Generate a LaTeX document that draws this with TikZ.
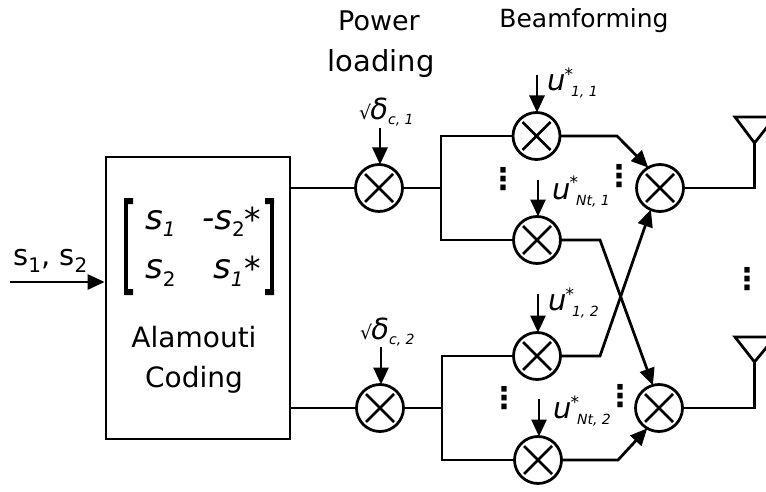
\documentclass[tikz,border=0pt]{standalone}
\usepackage{fontspec}
\setmainfont{DejaVu Sans}
\usetikzlibrary{arrows.meta}
\newcommand{\fs}[1]{\fontsize{#1}{#1}\selectfont}
\newcommand{\lowered}[3]{\raisebox{#1pt}{\fs{#2}#3}}
\newcommand{\ustar}[1]{\fs{29}\itshape u\kern-1pt\lowered{10}{17}{*}\kern-2pt\lowered{-6}{14}{#1}}
\tikzset{
  x=1pt,y=-1pt,
  wire/.style={line width=2.75pt,line join=miter},
  arrowwire/.style={wire,-{Triangle[length=17pt,width=15pt]}},
  mixer/.style={circle,draw,line width=2.75pt,minimum size=47pt,inner sep=0pt,outer sep=0pt,
    path picture={\draw[line width=2.75pt]
      ([xshift=-14pt,yshift=-14pt]path picture bounding box.center)--([xshift=14pt,yshift=14pt]path picture bounding box.center)
      ([xshift=-14pt,yshift=14pt]path picture bounding box.center)--([xshift=14pt,yshift=-14pt]path picture bounding box.center);}},
  blockbox/.style={draw,line width=2.75pt,minimum width=184pt,minimum height=282pt,inner sep=0pt},
  caption/.style={inner sep=0pt,font=\fs{27}},
  bigtext/.style={inner sep=0pt,font=\fs{28}},
  gain/.style={inner sep=0pt,anchor=base west},
  entry/.style={inner sep=0pt,anchor=base west},
  vdotsnode/.style={inner sep=0pt,font=\fs{30}\bfseries},
  antenna/.style={draw,line width=2.75pt,line join=miter},
  bracket/.style={line width=4pt,line cap=butt}
}
\begin{document}
\begin{tikzpicture}
\useasboundingbox (0,0) rectangle (766,492);
% blocks
\node[blockbox] (alamouti) at (198,298) {};
\node[mixer] (p1) at (379,188) {};
\node[mixer] (p2) at (380,408) {};
\node[mixer] (u11) at (536.5,136) {};
\node[mixer] (un1) at (537,240) {};
\node[mixer] (u12) at (537,356) {};
\node[mixer] (un2) at (538,460) {};
\node[mixer] (s1) at (660,188) {};
\node[mixer] (s2) at (659,408) {};
% captions
\node[caption] (cpower) at (379,21) {Power};
\node[caption,font=\fs{29}] (cload) at (381,64) {loading};
\node[caption,font=\fs{25}] (cbeam) at (584,21) {Beamforming};
\node[bigtext] (calam) at (194,337) {Alamouti};
\node[bigtext] (ccod) at (194,380) {Coding};
% input
\coordinate (in) at (10,282);
\node[inner sep=0pt,anchor=base west] (inlab) at (13,265) {\fs{29}s\lowered{-7}{20}{1}, s\lowered{-7}{20}{2}};
\draw[arrowwire] (in) -- (in -| alamouti.west);
% matrix
\draw[bracket] (126,198) -- (126,295);
\draw[bracket] (272,198) -- (272,295);
\fill (124,198) rectangle (133,204) (124,289) rectangle (133,295);
\fill (265,198) rectangle (274,204) (265,289) rectangle (274,295);
\node[entry] (m11) at (145,229) {\fs{34}\itshape s\lowered{-8}{20}{1}};
\node[entry] (m12) at (202,229) {\fs{34}\itshape -s\lowered{-8}{20}{\upshape 2}};
\node[entry] (m21) at (145,278) {\fs{34}\itshape s\lowered{-8}{20}{\upshape 2}};
\node[entry] (m22) at (213,278) {\fs{34}\itshape s\lowered{-8}{20}{1}};
\node[inner sep=0pt] (st1) at (253,219) {\fs{33}*};
\node[inner sep=0pt] (st2) at (253,268) {\fs{33}*};
% gain labels
\node[gain] (g1) at (359,120) {\fs{19}√\kern-1pt\fs{29}\itshape δ\lowered{-5}{14}{c, 1}};
\node[gain] (g2) at (360,339) {\fs{19}√\kern-1pt\fs{29}\itshape δ\lowered{-5}{14}{c, 2}};
\coordinate (g1a) at (380,128);
\coordinate (g2a) at (381,347);
\draw[arrowwire] (g1a) -- (g1a |- p1.north);
\draw[arrowwire] (g2a) -- (g2a |- p2.north);
% weight labels
\node[gain] (w11) at (547,91) {\ustar{1, 1}};
\node[gain] (wn1) at (552,199) {\ustar{Nt, 1}};
\node[gain] (w12) at (548,310) {\ustar{1, 2}};
\node[gain] (wn2) at (553,418) {\ustar{Nt, 2}};
\coordinate (w11a) at (537,75);
\coordinate (wn1a) at (538,180);
\coordinate (w12a) at (538,294);
\coordinate (wn2a) at (539,399);
\draw[arrowwire] (w11a) -- (w11a |- u11.north);
\draw[arrowwire] (wn1a) -- (wn1a |- un1.north);
\draw[arrowwire] (w12a) -- (w12a |- u12.north);
\draw[arrowwire] (wn2a) -- (wn2a |- un2.north);
% feeds
\draw[wire] (alamouti.east |- p1) -- (p1.west);
\draw[wire] (alamouti.east |- p2) -- (p2.west);
\coordinate (j1) at (441,188);
\coordinate (j2) at (442,408);
\draw[wire] (p1.east) -- (j1);
\draw[wire] (p2.east) -- (j2);
\draw[wire] (u11.west) -| (j1) |- (un1.west);
\draw[wire] (u12.west) -| (j2) |- (un2.west);
% outputs to summers
\coordinate (b1) at (617,136);
\coordinate (b2) at (600,240);
\coordinate (b3) at (600,356);
\coordinate (b4) at (618,460);
\draw[arrowwire] (u11.east) -- (b1) -- (s1.120);
\draw[arrowwire] (un1.east) -- (b2) -- (s2.105);
\draw[arrowwire] (u12.east) -- (b3) -- (s1.-113);
\draw[arrowwire] (un2.east) -- (b4) -- (s2.-120);
% antennas
\coordinate (t1) at (754.5,143);
\coordinate (t2) at (754.5,362);
\draw[antenna] (t1) -- (735,117) -- (775,117) -- cycle;
\draw[antenna] (t2) -- (735,337) -- (775,337) -- cycle;
\draw[wire] (s1.east) -| (t1);
\draw[wire] (s2.east) -| (t2);
% dots
\node[vdotsnode] (d1) at (503,179) {⋮};
\node[vdotsnode] (d2) at (619,176) {⋮};
\node[vdotsnode] (d3) at (504,398) {⋮};
\node[vdotsnode] (d4) at (620,396) {⋮};
\node[vdotsnode] (d5) at (747,279) {⋮};
\end{tikzpicture}
\end{document}
